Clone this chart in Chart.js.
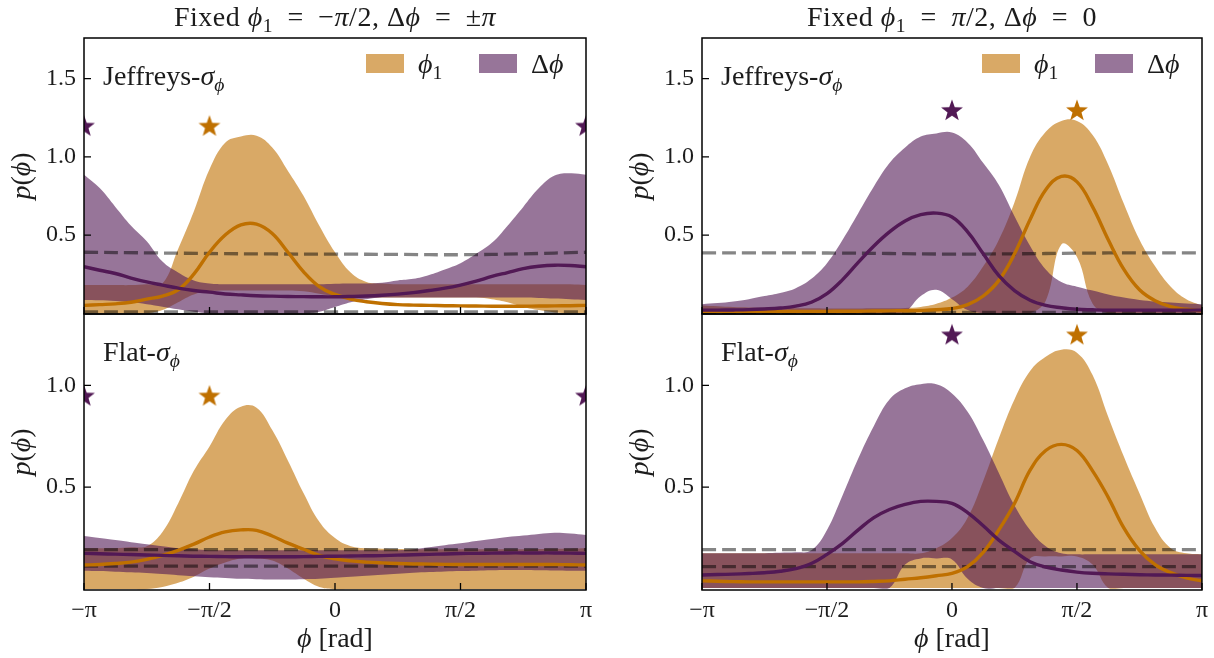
<!DOCTYPE html>
<html>
<head>
<meta charset="utf-8">
<title>p(phi) bands</title>
<script src="https://cdn.jsdelivr.net/npm/chart.js@4.4.1/dist/chart.umd.min.js"></script>
<style>
  html, body { margin: 0; padding: 0; background: #fff; }
  #fig { position: relative; width: 1214px; height: 658px; overflow: hidden; }
  #fig canvas { position: absolute; left: 0; top: 0; }
</style>
</head>
<body>
<div id="fig">
  <canvas id="tl" width="1214" height="658"></canvas>
  <canvas id="tr" width="1214" height="658"></canvas>
  <canvas id="bl" width="1214" height="658"></canvas>
  <canvas id="br" width="1214" height="658"></canvas>
</div>
<script>
const PI = Math.PI;

// x grid, in steps of pi/16 from -pi to pi
const phiSteps = [-16, -15, -14, -13, -12, -11, -10, -9, -8, -7, -6, -5, -4, -3, -2, -1, 0,
                  1, 2, 3, 4, 5, 6, 7, 8, 9, 10, 11, 12, 13, 14, 15, 16];
// coarser grid for the (nearly flat) prior lines, steps of pi/4
const priorSteps = [-4, -3, -2, -1, 0, 1, 2, 3, 4];

const xTickVals = [-PI, -PI / 2, 0, PI / 2, PI];
const xTickLabels = ['−π', '−π/2', '0', 'π/2', 'π'];
const yTicksTop = [0.5, 1.0, 1.5];
const yTicksBottom = [0.5, 1.0];

// ---- top left: fixed phi1 = -pi/2, dphi = +-pi, Jeffreys
const tlOrangeMed = [0.050, 0.055, 0.060, 0.070, 0.090, 0.110, 0.150, 0.250, 0.390, 0.500, 0.565, 0.570, 0.510, 0.390, 0.265, 0.170, 0.120,
                     0.090, 0.073, 0.062, 0.055, 0.052, 0.050, 0.048, 0.047, 0.046, 0.045, 0.045, 0.045, 0.046, 0.047, 0.048, 0.050];
const tlOrangeHi = [0.18, 0.18, 0.18, 0.18, 0.185, 0.19, 0.41, 0.65, 0.92, 1.09, 1.13, 1.135, 1.06, 0.91, 0.75, 0.56, 0.39,
                    0.26, 0.20, 0.19, 0.185, 0.185, 0.185, 0.185, 0.185, 0.185, 0.185, 0.185, 0.185, 0.185, 0.185, 0.185, 0.18];
const tlOrangeLo = [0, 0, 0, 0, 0, 0.02, 0.07, 0.12, 0.14, 0.145, 0.145, 0.145, 0.145, 0.145, 0.14, 0.125, 0.11,
                    0.1, 0.1, 0.1, 0.1, 0.1, 0.1, 0.1, 0.1, 0.1, 0.09, 0.07, 0.04, 0.02, 0.005, 0, 0];
const tlPurpleMed = [0.297, 0.275, 0.254, 0.225, 0.200, 0.180, 0.160, 0.145, 0.135, 0.123, 0.117, 0.112, 0.109, 0.107, 0.106, 0.105, 0.105,
                     0.107, 0.110, 0.115, 0.122, 0.132, 0.145, 0.160, 0.180, 0.205, 0.235, 0.260, 0.285, 0.300, 0.307, 0.305, 0.297];
const tlPurpleHi = [0.885, 0.80, 0.68, 0.56, 0.46, 0.33, 0.26, 0.21, 0.19, 0.185, 0.185, 0.185, 0.185, 0.185, 0.185, 0.185, 0.188,
                    0.19, 0.19, 0.195, 0.21, 0.22, 0.245, 0.28, 0.32, 0.38, 0.45, 0.56, 0.68, 0.80, 0.88, 0.895, 0.885];
const tlPurpleLo = [0.085, 0.083, 0.078, 0.07, 0.058, 0.042, 0.025, 0.01, 0, 0, 0, 0, 0, 0, 0, 0.01, 0.04,
                    0.07, 0.09, 0.1, 0.1, 0.1, 0.1, 0.1, 0.1, 0.1, 0.1, 0.1, 0.1, 0.098, 0.094, 0.09, 0.085];
const tlPriorHi = [0.39, 0.386, 0.382, 0.379, 0.378, 0.376, 0.374, 0.38, 0.39];
const tlPriorLo = [0.008, 0.008, 0.008, 0.008, 0.008, 0.008, 0.008, 0.008, 0.008];

// ---- top right: fixed phi1 = pi/2, dphi = 0, Jeffreys
const trOrangeMed = [0.012, 0.012, 0.012, 0.012, 0.012, 0.012, 0.012, 0.012, 0.012, 0.013, 0.013, 0.014, 0.015, 0.016, 0.018, 0.022, 0.03,
                     0.055, 0.11, 0.21, 0.38, 0.60, 0.79, 0.875, 0.84, 0.68, 0.47, 0.28, 0.15, 0.08, 0.042, 0.025, 0.015];
const trOrangeHi = [0.05, 0.045, 0.04, 0.037, 0.035, 0.033, 0.032, 0.031, 0.03, 0.03, 0.03, 0.031, 0.032, 0.034, 0.04, 0.06, 0.10,
                    0.17, 0.30, 0.47, 0.71, 1.0, 1.16, 1.23, 1.23, 1.14, 0.95, 0.70, 0.47, 0.30, 0.17, 0.09, 0.05];
const trOrangeLo = [0, 0, 0, 0, 0, 0, 0, 0, 0, 0, 0, 0, 0, 0, 0, 0, 0,
                    0, 0, 0, 0, 0, 0.08, 0.44, 0.36, 0.06, 0, 0, 0, 0, 0, 0, 0];
const trPurpleMed = [0.02, 0.02, 0.021, 0.023, 0.027, 0.033, 0.045, 0.07, 0.125, 0.215, 0.325, 0.43, 0.52, 0.59, 0.63, 0.64, 0.615,
                     0.52, 0.38, 0.24, 0.145, 0.083, 0.05, 0.035, 0.025, 0.022, 0.02, 0.02, 0.02, 0.02, 0.02, 0.02, 0.02];
const trPurpleHi = [0.058, 0.065, 0.075, 0.09, 0.11, 0.13, 0.16, 0.22, 0.32, 0.47, 0.64, 0.81, 0.96, 1.06, 1.13, 1.15, 1.155,
                    1.09, 0.96, 0.82, 0.62, 0.43, 0.28, 0.20, 0.17, 0.145, 0.12, 0.10, 0.085, 0.075, 0.068, 0.062, 0.058];
const trPurpleLo = [0, 0, 0, 0, 0, 0, 0, 0, 0, 0, 0, 0, 0, 0.01, 0.11, 0.15, 0.09,
                    0.02, 0, 0, 0, 0, 0, 0, 0, 0, 0, 0, 0, 0, 0, 0, 0];
const trPriorHi = [0.386, 0.386, 0.385, 0.382, 0.378, 0.38, 0.384, 0.386, 0.386];
const trPriorLo = [0.006, 0.006, 0.006, 0.006, 0.006, 0.006, 0.006, 0.006, 0.006];

// ---- bottom left: fixed phi1 = -pi/2, dphi = +-pi, flat
const blOrangeMed = [0.118, 0.12, 0.125, 0.132, 0.145, 0.165, 0.19, 0.22, 0.255, 0.28, 0.29, 0.288, 0.26, 0.225, 0.195, 0.165, 0.148,
                     0.138, 0.132, 0.128, 0.125, 0.123, 0.122, 0.121, 0.12, 0.12, 0.12, 0.12, 0.12, 0.12, 0.12, 0.119, 0.118];
const blOrangeHi = [0.2, 0.2, 0.2, 0.205, 0.21, 0.28, 0.42, 0.58, 0.70, 0.83, 0.895, 0.89, 0.78, 0.63, 0.47, 0.33, 0.25,
                    0.21, 0.2, 0.198, 0.196, 0.195, 0.195, 0.195, 0.195, 0.195, 0.195, 0.195, 0.195, 0.196, 0.197, 0.198, 0.2];
const blOrangeLo = [0, 0, 0, 0, 0, 0.01, 0.03, 0.06, 0.10, 0.13, 0.15, 0.15, 0.14, 0.10, 0.05, 0.01, 0,
                    0, 0, 0, 0, 0, 0, 0, 0, 0, 0, 0, 0, 0, 0, 0, 0];
const blPurpleMed = [0.175, 0.173, 0.171, 0.169, 0.167, 0.165, 0.163, 0.161, 0.16, 0.159, 0.158, 0.158, 0.158, 0.158, 0.159, 0.16, 0.161,
                     0.162, 0.163, 0.164, 0.166, 0.168, 0.17, 0.172, 0.174, 0.175, 0.176, 0.177, 0.177, 0.177, 0.177, 0.176, 0.175];
const blPurpleHi = [0.26, 0.25, 0.24, 0.23, 0.22, 0.21, 0.2, 0.195, 0.19, 0.19, 0.19, 0.19, 0.19, 0.19, 0.19, 0.19, 0.19,
                    0.19, 0.19, 0.19, 0.19, 0.195, 0.205, 0.215, 0.224, 0.235, 0.245, 0.255, 0.262, 0.27, 0.276, 0.272, 0.265];
const blPurpleLo = [0.09, 0.088, 0.085, 0.082, 0.078, 0.073, 0.068, 0.063, 0.058, 0.054, 0.05, 0.048, 0.047, 0.047, 0.048, 0.05, 0.055,
                    0.06, 0.065, 0.07, 0.075, 0.08, 0.083, 0.086, 0.088, 0.09, 0.092, 0.093, 0.093, 0.092, 0.091, 0.09, 0.09];
const blPriorHi = [0.193, 0.193, 0.193, 0.193, 0.193, 0.193, 0.193, 0.193, 0.193];
const blPriorLo = [0.112, 0.112, 0.112, 0.112, 0.112, 0.112, 0.112, 0.112, 0.112];

// ---- bottom right: fixed phi1 = pi/2, dphi = 0, flat
const brOrangeMed = [0.04, 0.038, 0.036, 0.035, 0.035, 0.035, 0.035, 0.035, 0.035, 0.035, 0.035, 0.037, 0.04, 0.048, 0.055, 0.065, 0.077,
                     0.11, 0.18, 0.29, 0.42, 0.583, 0.68, 0.71, 0.68, 0.58, 0.45, 0.30, 0.19, 0.12, 0.08, 0.055, 0.04];
const brOrangeHi = [0.175, 0.175, 0.175, 0.175, 0.175, 0.175, 0.175, 0.175, 0.175, 0.175, 0.175, 0.175, 0.175, 0.175, 0.175, 0.2, 0.25,
                    0.35, 0.53, 0.74, 0.93, 1.07, 1.14, 1.175, 1.16, 1.05, 0.845, 0.65, 0.47, 0.30, 0.2, 0.175, 0.17];
const brOrangeLo = [0.005, 0.005, 0.005, 0.005, 0.005, 0.005, 0.005, 0.005, 0.005, 0.005, 0.005, 0.005, 0.005, 0.005, 0.005, 0.005, 0.005,
                    0.005, 0.005, 0.005, 0.005, 0.15, 0.16, 0.16, 0.16, 0.12, 0.005, 0.005, 0.005, 0.005, 0.005, 0.005, 0.005];
const brPurpleMed = [0.069, 0.071, 0.073, 0.076, 0.08, 0.087, 0.1, 0.125, 0.17, 0.224, 0.29, 0.35, 0.39, 0.415, 0.43, 0.43, 0.42,
                     0.375, 0.31, 0.24, 0.185, 0.134, 0.108, 0.093, 0.083, 0.077, 0.074, 0.072, 0.07, 0.069, 0.068, 0.067, 0.066];
const brPurpleHi = [0.175, 0.175, 0.175, 0.175, 0.176, 0.178, 0.18, 0.19, 0.29, 0.46, 0.64, 0.80, 0.93, 0.985, 1.005, 1.005, 0.96,
                    0.87, 0.73, 0.57, 0.41, 0.29, 0.21, 0.175, 0.17, 0.17, 0.17, 0.17, 0.17, 0.17, 0.17, 0.17, 0.17];
const brPurpleLo = [0.005, 0.005, 0.005, 0.005, 0.005, 0.005, 0.005, 0.005, 0.005, 0.005, 0.005, 0.005, 0.005, 0.12, 0.15, 0.15, 0.145,
                    0.05, 0.005, 0.005, 0.005, 0.005, 0.005, 0.005, 0.005, 0.005, 0.005, 0.005, 0.005, 0.005, 0.005, 0.005, 0.005];
const brPriorHi = [0.193, 0.193, 0.193, 0.193, 0.193, 0.193, 0.193, 0.193, 0.193];
const brPriorLo = [0.11, 0.11, 0.11, 0.11, 0.11, 0.11, 0.11, 0.11, 0.11];

// injected (true) values, shown as stars
const tlStarOrange = [-PI / 2], tlStarPurple = [-PI, PI], tlStarY = 1.2;
const trStarOrange = [PI / 2], trStarPurple = [0], trStarY = 1.3;
const blStarOrange = [-PI / 2], blStarPurple = [-PI, PI], blStarY = 0.95;
const brStarOrange = [PI / 2], brStarPurple = [0], brStarY = 1.25;

const ORANGE = 'rgb(191,112,0)';
const PURPLE = 'rgb(82,25,85)';
const ORANGE_BAND = 'rgba(191,112,0,0.6)';
const PURPLE_BAND = 'rgba(82,25,85,0.6)';
const PRIOR = 'rgba(0,0,0,0.48)';
const TEXT = '#1c1c1c';
const FONT = "'Liberation Serif', 'DejaVu Serif', serif";
const FS = 28;      // titles, labels, legend
const FS_TICK = 24; // tick labels

const EN = '\u2002';
const titleLeft = [['Fixed ', 'n'], ['ϕ', 'i'], ['1', 'sn'], [EN + '=' + EN + '−', 'n'], ['π', 'i'], ['/2, Δ', 'n'], ['ϕ', 'i'], [EN + '=' + EN + '±', 'n'], ['π', 'i']];
const titleRight = [['Fixed ', 'n'], ['ϕ', 'i'], ['1', 'sn'], [EN + '=' + EN, 'n'], ['π', 'i'], ['/2, Δ', 'n'], ['ϕ', 'i'], [EN + '=' + EN + '0', 'n']];
const labelJeffreys = [['Jeffreys-', 'n'], ['σ', 'i'], ['ϕ', 'si']];
const labelFlat = [['Flat-', 'n'], ['σ', 'i'], ['ϕ', 'si']];
const yTitle = [['p', 'i'], ['(', 'n'], ['ϕ', 'i'], [')', 'n']];
const xTitle = [['ϕ', 'i'], [' [rad]', 'n']];
const legendOrange = [['ϕ', 'i'], ['1', 'sn']];
const legendPurple = [['Δ', 'n'], ['ϕ', 'i']];

function drawRuns(ctx, runs, x, y, align, spacing) {
  ctx.letterSpacing = (spacing || 0) + 'px';
  const parts = runs.map(([t, st]) => {
    const sub = st[0] === 's';
    const it = st[st.length - 1] === 'i';
    const size = sub ? FS * 0.7 : FS;
    const font = (it ? 'italic ' : '') + size + 'px ' + FONT;
    ctx.font = font;
    return { t, font, w: ctx.measureText(t).width, dy: sub ? FS * 0.2 : 0 };
  });
  const total = parts.reduce((s, p) => s + p.w, 0);
  let cx = align === 'center' ? x - total / 2 : x;
  ctx.textAlign = 'left';
  ctx.textBaseline = 'alphabetic';
  parts.forEach(p => {
    ctx.font = p.font;
    ctx.fillText(p.t, cx, y + p.dy);
    cx += p.w;
  });
  ctx.letterSpacing = '0px';
}

function starImage(color) {
  const c = document.createElement('canvas');
  c.width = 26; c.height = 26;
  const g = c.getContext('2d');
  g.fillStyle = color;
  g.beginPath();
  for (let i = 0; i < 10; i++) {
    const r = i % 2 ? 4.7 : 11.5;
    const a = -PI / 2 + i * PI / 5;
    g.lineTo(13 + r * Math.cos(a), 14 + r * Math.sin(a));
  }
  g.closePath();
  g.fill();
  return c;
}
const starOrange = starImage(ORANGE);
const starPurple = starImage(PURPLE);

const decor = {
  id: 'decor',
  afterDraw(chart, args, o) {
    const { ctx, chartArea: a } = chart;
    const xs = chart.scales.x, ys = chart.scales.y;
    ctx.save();
    // inward ticks
    ctx.strokeStyle = '#000';
    ctx.lineWidth = 1.3;
    ctx.beginPath();
    xTickVals.forEach(v => {
      const px = xs.getPixelForValue(v);
      ctx.moveTo(px, a.bottom);
      ctx.lineTo(px, a.bottom - 7);
    });
    o.yTicks.forEach(v => {
      const py = ys.getPixelForValue(v);
      ctx.moveTo(a.left, py);
      ctx.lineTo(a.left + 7, py);
    });
    ctx.stroke();
    ctx.lineWidth = 1.5;
    ctx.strokeRect(a.left, a.top, a.right - a.left, a.bottom - a.top);

    ctx.fillStyle = TEXT;
    if (o.title) drawRuns(ctx, o.title, (a.left + a.right) / 2, 26, 'center', 0.5);
    drawRuns(ctx, o.label, a.left + 19, a.top + 47, 'left');
    if (o.xTitle) drawRuns(ctx, xTitle, (a.left + a.right) / 2, 647, 'center');

    ctx.save();
    ctx.translate(a.left - 54, (a.top + a.bottom) / 2);
    ctx.rotate(-PI / 2);
    drawRuns(ctx, yTitle, 0, 0, 'center');
    ctx.restore();

    if (o.legend) {
      const ds = chart.data.datasets;
      [[220, ds[1].backgroundColor, legendOrange], [107, ds[3].backgroundColor, legendPurple]].forEach(([off, col, runs]) => {
        ctx.fillStyle = col;
        ctx.fillRect(a.right - off, a.top + 16, 38, 19);
        ctx.fillStyle = TEXT;
        drawRuns(ctx, runs, a.right - off + 52, a.top + 35, 'left');
      });
    }
    ctx.restore();
  }
};

function pts(steps, unit, vals) {
  return vals.map((v, i) => ({ x: steps[i] * unit, y: v }));
}

function bandDs(vals, fill, color, order) {
  return {
    data: pts(phiSteps, PI / 16, vals),
    borderColor: 'rgba(0,0,0,0)', borderWidth: 0, pointRadius: 0,
    backgroundColor: color, fill: fill, order: order, tension: 0.4
  };
}

function makePanel(id, p) {
  const datasets = [
    bandDs(p.oLo, false, ORANGE_BAND, 5),
    bandDs(p.oHi, '-1', ORANGE_BAND, 5),
    bandDs(p.pLo, false, PURPLE_BAND, 4),
    bandDs(p.pHi, '-1', PURPLE_BAND, 4),
    { data: pts(priorSteps, PI / 4, p.priorHi), borderColor: PRIOR, borderWidth: 3.3, borderDash: [14, 6],
      pointRadius: 0, fill: false, order: 3, tension: 0.4 },
    { data: pts(priorSteps, PI / 4, p.priorLo), borderColor: PRIOR, borderWidth: 3.3, borderDash: [14, 6],
      pointRadius: 0, fill: false, order: 3, tension: 0.4 },
    { data: pts(phiSteps, PI / 16, p.oMed), borderColor: ORANGE, borderWidth: 3.4, pointRadius: 0,
      fill: false, order: 2, tension: 0.4 },
    { data: pts(phiSteps, PI / 16, p.pMed), borderColor: PURPLE, borderWidth: 3.4, pointRadius: 0,
      fill: false, order: 1, tension: 0.4 },
    { data: p.oStar.map(x => ({ x, y: p.starY })), showLine: false, pointStyle: starOrange,
      pointRadius: 11, clip: 0, order: 0 },
    { data: p.pStar.map(x => ({ x, y: p.starY })), showLine: false, pointStyle: starPurple,
      pointRadius: 11, clip: 0, order: 0 }
  ];

  const yW = 84;                      // room for y tick labels
  const xH = p.xLabels ? 68 : 0;      // room for x tick labels
  return new Chart(document.getElementById(id), {
    type: 'line',
    data: { datasets },
    plugins: [decor],
    options: {
      responsive: false,
      animation: false,
      devicePixelRatio: 1,
      events: [],
      layout: { padding: { left: p.l - yW, top: p.t, right: 1214 - p.r, bottom: 658 - p.b - xH } },
      plugins: {
        legend: { display: false },
        tooltip: { enabled: false },
        decor: { title: p.title, label: p.label, legend: p.legend, xTitle: p.xLabels, yTicks: p.yTicks }
      },
      scales: {
        x: {
          type: 'linear', min: -PI, max: PI,
          grid: { display: false, drawTicks: false },
          border: { display: false },
          afterBuildTicks: s => { s.ticks = xTickVals.map(v => ({ value: v })); },
          afterFit: s => { s.height = xH; },
          ticks: {
            display: p.xLabels, padding: 6, maxRotation: 0, minRotation: 0, autoSkip: false,
            color: TEXT, font: { family: FONT, size: FS_TICK },
            callback: (v, i) => xTickLabels[i]
          }
        },
        y: {
          type: 'linear', min: p.yMin, max: p.yMax,
          grid: { display: false, drawTicks: false },
          border: { display: false },
          afterBuildTicks: s => { s.ticks = p.yTicks.map(v => ({ value: v })); },
          afterFit: s => { s.width = yW; },
          ticks: {
            padding: 8, color: TEXT, font: { family: FONT, size: FS_TICK },
            callback: v => v.toFixed(1)
          }
        }
      }
    }
  });
}

makePanel('tl', {
  l: 84, t: 38, r: 586, b: 314, yMin: -0.005, yMax: 1.76, yTicks: yTicksTop,
  title: titleLeft, label: labelJeffreys, legend: true, xLabels: false,
  oMed: tlOrangeMed, oHi: tlOrangeHi, oLo: tlOrangeLo, pMed: tlPurpleMed, pHi: tlPurpleHi, pLo: tlPurpleLo,
  priorHi: tlPriorHi, priorLo: tlPriorLo, oStar: tlStarOrange, pStar: tlStarPurple, starY: tlStarY
});
makePanel('tr', {
  l: 702, t: 38, r: 1203, b: 314, yMin: -0.005, yMax: 1.76, yTicks: yTicksTop,
  title: titleRight, label: labelJeffreys, legend: true, xLabels: false,
  oMed: trOrangeMed, oHi: trOrangeHi, oLo: trOrangeLo, pMed: trPurpleMed, pHi: trPurpleHi, pLo: trPurpleLo,
  priorHi: trPriorHi, priorLo: trPriorLo, oStar: trStarOrange, pStar: trStarPurple, starY: trStarY
});
makePanel('bl', {
  l: 84, t: 314, r: 586, b: 590, yMin: -0.005, yMax: 1.35, yTicks: yTicksBottom,
  title: null, label: labelFlat, legend: false, xLabels: true,
  oMed: blOrangeMed, oHi: blOrangeHi, oLo: blOrangeLo, pMed: blPurpleMed, pHi: blPurpleHi, pLo: blPurpleLo,
  priorHi: blPriorHi, priorLo: blPriorLo, oStar: blStarOrange, pStar: blStarPurple, starY: blStarY
});
makePanel('br', {
  l: 702, t: 314, r: 1203, b: 590, yMin: -0.005, yMax: 1.35, yTicks: yTicksBottom,
  title: null, label: labelFlat, legend: false, xLabels: true,
  oMed: brOrangeMed, oHi: brOrangeHi, oLo: brOrangeLo, pMed: brPurpleMed, pHi: brPurpleHi, pLo: brPurpleLo,
  priorHi: brPriorHi, priorLo: brPriorLo, oStar: brStarOrange, pStar: brStarPurple, starY: brStarY
});
</script>
</body>
</html>
